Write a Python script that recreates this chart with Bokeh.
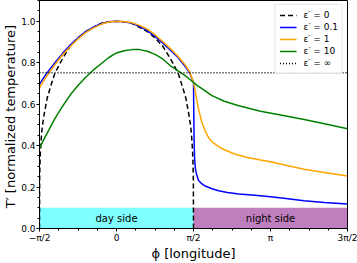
import numpy as np
from bokeh.plotting import figure
from bokeh.models import FixedTicker, Legend, LegendItem, Range1d, NumeralTickFormatter
from bokeh.core.properties import value
from bokeh.embed import file_html
from bokeh.resources import INLINE

PI = np.pi

# ---- data (longitude in units of pi) ----
phi_e0 = [-0.5, -0.499, -0.497, -0.494, -0.49, -0.485, -0.48, -0.47, -0.46, -0.45, -0.43, -0.4,
          -0.35, -0.3, -0.25, -0.2, -0.15, -0.1, -0.05, 0.0, 0.05, 0.1, 0.15, 0.2, 0.25, 0.3,
          0.35, 0.4, 0.43, 0.45, 0.46, 0.47, 0.48, 0.485, 0.49, 0.494, 0.497, 0.499, 0.5]
T_e0 = [0.0, 0.24, 0.31, 0.37, 0.42, 0.47, 0.50, 0.55, 0.59, 0.63, 0.68, 0.75,
        0.82, 0.88, 0.92, 0.95, 0.97, 0.99, 0.997, 1.0, 0.997, 0.99, 0.97, 0.95, 0.92, 0.88,
        0.82, 0.75, 0.68, 0.63, 0.59, 0.55, 0.50, 0.47, 0.42, 0.37, 0.31, 0.24, 0.0]

phi_day = [-0.5, -0.475, -0.45, -0.4, -0.35, -0.3, -0.25, -0.2, -0.15, -0.1, -0.05, 0.0,
           0.05, 0.1, 0.15, 0.2, 0.25, 0.3, 0.35, 0.4, 0.45, 0.475, 0.5]
T_e01_day = [0.695, 0.725, 0.752, 0.80, 0.845, 0.885, 0.92, 0.95, 0.972, 0.988, 0.997, 1.0,
             0.998, 0.99, 0.975, 0.955, 0.927, 0.895, 0.86, 0.825, 0.778, 0.75, 0.705]
T_e1_day = [0.679, 0.71, 0.738, 0.79, 0.838, 0.878, 0.915, 0.945, 0.968, 0.985, 0.996, 1.0,
            0.999, 0.993, 0.98, 0.962, 0.935, 0.902, 0.868, 0.83, 0.785, 0.755, 0.705]
T_e10_day = [0.387, 0.425, 0.46, 0.53, 0.59, 0.645, 0.69, 0.73, 0.765, 0.795, 0.825, 0.847,
             0.858, 0.863, 0.863, 0.855, 0.84, 0.818, 0.785, 0.76, 0.735, 0.72, 0.705]

phi_e01_night = [0.502, 0.504, 0.507, 0.512, 0.52, 0.533, 0.555, 0.576, 0.62, 0.663, 0.72,
                 0.794, 0.9, 1.0, 1.1, 1.218, 1.35, 1.5]
T_e01_night = [0.55, 0.42, 0.34, 0.29, 0.26, 0.232, 0.215, 0.205, 0.192, 0.182, 0.174,
               0.166, 0.16, 0.153, 0.145, 0.134, 0.126, 0.118]
phi_e1_night = [0.505, 0.511, 0.52, 0.533, 0.545, 0.555, 0.576, 0.598, 0.62, 0.663, 0.7,
                0.772, 0.85, 0.935, 1.0, 1.1, 1.218, 1.35, 1.5]
T_e1_night = [0.685, 0.665, 0.625, 0.575, 0.54, 0.51, 0.47, 0.438, 0.418, 0.395, 0.38,
              0.358, 0.343, 0.331, 0.322, 0.305, 0.286, 0.27, 0.253]
phi_e10_night = [0.52, 0.55, 0.58, 0.62, 0.7, 0.794, 0.935, 1.1, 1.218, 1.35, 1.5]
T_e10_night = [0.692, 0.677, 0.662, 0.641, 0.614, 0.592, 0.566, 0.543, 0.526, 0.505, 0.481]

phi_inf = [-0.5, 1.5]
T_inf = [0.751, 0.751]

band_left = [-0.5, 0.5]
band_right = [0.5, 1.5]
band_top = [0.1, 0.1]
band_colors = ["cyan", "purple"]
band_labels = ["day side", "night side"]
band_centers = [0.0, 1.0]

legend_labels = ["ε′ = 0", "ε′ = 0.1", "ε′ = 1", "ε′ = 10", "ε′ = ∞"]

x_tick_vals = [-0.5, 0.0, 0.5, 1.0, 1.5]
x_tick_labels = ["−π/2", "0", "π/2", "π", "3π/2"]
y_tick_vals = [0.0, 0.2, 0.4, 0.6, 0.8, 1.0]


def rad(a):
    return [v * PI for v in a]


FONT = "DejaVu Sans"

p = figure(width=357, height=263, x_range=Range1d(-PI / 2, 3 * PI / 2), y_range=Range1d(0, 1.1),
           output_backend="svg", toolbar_location=None,
           min_border_left=30, min_border_right=10, min_border_top=0, min_border_bottom=30)
p.grid.visible = False
p.outline_line_color = "black"
p.outline_line_width = 1
p.outline_line_alpha = 1

# bands
p.quad(left=rad(band_left), right=rad(band_right), bottom=[0, 0], top=band_top,
       fill_color=band_colors, fill_alpha=0.5, line_color=None)
p.text(x=rad(band_centers), y=[b / 2 for b in band_top], text=band_labels,
       text_align="center", text_baseline="middle", text_font=value(FONT),
       text_font_size="10px", text_color="black")

lw = 1.5
r0 = p.line(rad(phi_e0), T_e0, line_color="black", line_width=lw, line_dash="5 3")
r1 = p.line(rad(phi_day + phi_e01_night), T_e01_day + T_e01_night, line_color="blue", line_width=lw)
r2 = p.line(rad(phi_day + phi_e1_night), T_e1_day + T_e1_night, line_color="orange", line_width=lw)
r3 = p.line(rad(phi_day + phi_e10_night), T_e10_day + T_e10_night, line_color="green", line_width=lw)
r4 = p.line(rad(phi_inf), T_inf, line_color="black", line_width=lw, line_dash="1 2")

legend = Legend(items=[LegendItem(label=l, renderers=[r]) for l, r in
                       zip(legend_labels, [r0, r1, r2, r3, r4])],
                location="top_right")
legend.label_text_font = FONT
legend.label_text_font_size = "9px"
legend.label_text_color = "black"
legend.glyph_width = 17
legend.glyph_height = 12
legend.label_height = 12
legend.label_standoff = 7
legend.spacing = 0
legend.padding = 4
legend.margin = 4
legend.border_line_color = "#cccccc"
legend.background_fill_alpha = 0.8
p.add_layout(legend)

# axes
p.xaxis.ticker = FixedTicker(ticks=rad(x_tick_vals), minor_ticks=[k * PI / 8 for k in range(-4, 13)])
p.xaxis.major_label_overrides = {v * PI: s for v, s in zip(x_tick_vals, x_tick_labels)}
p.yaxis.ticker = FixedTicker(ticks=y_tick_vals, minor_ticks=[k * 0.05 for k in range(0, 23)])
p.yaxis.formatter = NumeralTickFormatter(format="0.0")

p.xaxis.axis_label = "ϕ [longitude]"
p.yaxis.axis_label = "T′  [normalized temperature]"
for ax in (p.xaxis, p.yaxis):
    ax.axis_label_text_font = FONT
    ax.axis_label_text_font_style = "normal"
    ax.axis_label_text_font_size = "13px"
    ax.axis_label_text_color = "black"
    ax.major_label_text_font = FONT
    ax.major_label_text_font_size = "9px"
    ax.major_label_text_color = "black"
    ax.axis_line_color = "black"
    ax.major_tick_line_color = "black"
    ax.minor_tick_line_color = "black"
    ax.major_tick_in = 0
    ax.major_tick_out = 3
    ax.minor_tick_in = 0
    ax.minor_tick_out = 2
    ax.major_label_standoff = 1
    ax.axis_label_standoff = 0

open("out.html", "w").write(file_html(p, INLINE))
